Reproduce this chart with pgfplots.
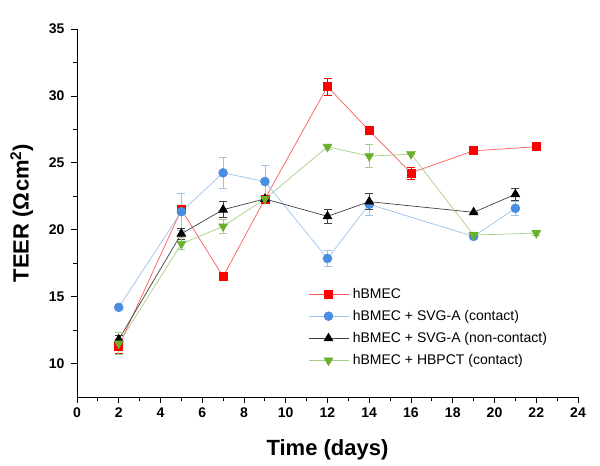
\documentclass[border=0pt]{standalone}
\usepackage{pgfplots}
\pgfplotsset{compat=1.18}
\usepackage{fontspec}
\setmainfont{Liberation Sans}
\definecolor{cred}{HTML}{FF0000}
\definecolor{credl}{HTML}{FF5A5A}
\definecolor{cblue}{HTML}{4A8FDF}
\definecolor{cbluel}{HTML}{9CC2EC}
\definecolor{cgreen}{HTML}{6BAF2E}
\definecolor{cgreenl}{HTML}{A6CF85}
\definecolor{cblackl}{HTML}{404040}
\begin{document}
\begin{tikzpicture}
\begin{axis}[
    scale only axis,
    width=501pt, height=368pt,
    xmin=0, xmax=24, ymin=7.5, ymax=35,
    axis lines*=left,
    axis line style={line width=0.8pt},
    tick align=outside,
    major tick length=6pt, minor tick length=4pt,
    tick style={line width=0.8pt, black},
    xtick={0,2,...,24}, ytick={10,15,...,35},
    minor x tick num=1, minor y tick num=1,
    ticklabel style={font=\fontsize{14}{16}\selectfont\bfseries},
    yticklabel style={xshift=-3pt},
    xticklabel style={yshift=-1pt},
    /pgf/number format/assume math mode=true,
    xlabel={Time (days)},
    ylabel={TEER (Ω\kern0.5pt cm\textsuperscript{2})},
    xlabel style={font=\fontsize{22}{26}\selectfont\bfseries,
        at={(axis description cs:0.5,-0.143)}, anchor=center},
    ylabel style={font=\fontsize{22}{26}\selectfont\bfseries,
        at={(axis description cs:-0.11,0.5)}, anchor=center},
    legend style={draw=none, fill=none, at={(axis description cs:0.455,0.307)}, anchor=north west,
        font=\fontsize{14}{16}\selectfont, row sep=6.5pt,
        nodes={inner xsep=4pt}},
    legend cell align=left,
    legend image code/.code={
        \draw[#1, mark repeat=2, mark phase=2] plot coordinates {(0pt,0pt) (20pt,0pt) (40pt,0pt)};
    },
]
\addplot[color=credl, line width=0.7pt, mark=square*, mark size=4pt,
    mark options={color=cred, fill=cred},
    error bars/.cd, y dir=both, y explicit,
    error bar style={color=cred, line width=0.6pt}, error mark options={rotate=90, mark size=4pt, color=cred, line width=0.6pt}]
coordinates {
    (2,11.3) +- (0,0.5)
    (5,21.5) +- (0,0.3)
    (7,16.5) +- (0,0.0)
    (9,22.3) +- (0,0.0)
    (12,30.7) +- (0,0.65)
    (14,27.4) +- (0,0.0)
    (16,24.25) +- (0,0.45)
    (19,25.9) +- (0,0.0)
    (22,26.2) +- (0,0.0)
};
\addlegendentry{hBMEC}

\addplot[color=cbluel, line width=0.7pt, mark=*, mark size=4.4pt,
    mark options={color=cblue, fill=cblue},
    error bars/.cd, y dir=both, y explicit,
    error bar style={color=cbluel, line width=0.6pt}, error mark options={rotate=90, mark size=4pt, color=cbluel, line width=0.6pt}]
coordinates {
    (2,14.2) +- (0,0.0)
    (5,21.35) +- (0,1.4)
    (7,24.25) +- (0,1.15)
    (9,23.6) +- (0,1.2)
    (12,17.85) +- (0,0.6)
    (14,21.9) +- (0,0.8)
    (19,19.5) +- (0,0.0)
    (21,21.6) +- (0,0.5)
};
\addlegendentry{hBMEC + SVG-A (contact)}

\addplot[color=cblackl, line width=0.7pt, mark=triangle*, mark size=5pt,
    mark options={color=black, fill=black},
    error bars/.cd, y dir=both, y explicit,
    error bar style={color=cblackl, line width=0.6pt}, error mark options={rotate=90, mark size=4pt, color=cblackl, line width=0.6pt}]
coordinates {
    (2,11.8) +- (0,0.3)
    (5,19.7) +- (0,0.4)
    (7,21.5) +- (0,0.6)
    (9,22.3) +- (0,0.0)
    (12,21.0) +- (0,0.5)
    (14,22.1) +- (0,0.6)
    (19,21.3) +- (0,0.0)
    (21,22.65) +- (0,0.45)
};
\addlegendentry{hBMEC + SVG-A (non-contact)}

\addplot[color=cgreenl, line width=0.7pt, mark=triangle*, mark size=5pt,
    mark options={color=cgreen, fill=cgreen, rotate=180},
    error bars/.cd, y dir=both, y explicit,
    error bar style={color=cgreenl, line width=0.6pt}, error mark options={rotate=90, mark size=4pt, color=cgreenl, line width=0.6pt}]
coordinates {
    (2,11.5) +- (0,0.8)
    (5,18.95) +- (0,0.45)
    (7,20.25) +- (0,0.5)
    (9,22.3) +- (0,0.0)
    (12,26.2) +- (0,0.2)
    (14,25.5) +- (0,0.85)
    (16,25.65) +- (0,0.0)
    (19,19.6) +- (0,0.0)
    (22,19.75) +- (0,0.2)
};
\addlegendentry{hBMEC + HBPCT (contact)}
\end{axis}
\path (current axis.south west) ++(-77pt,-69pt);
\path (current axis.north east) ++(22pt,29pt);
\end{tikzpicture}
\end{document}
